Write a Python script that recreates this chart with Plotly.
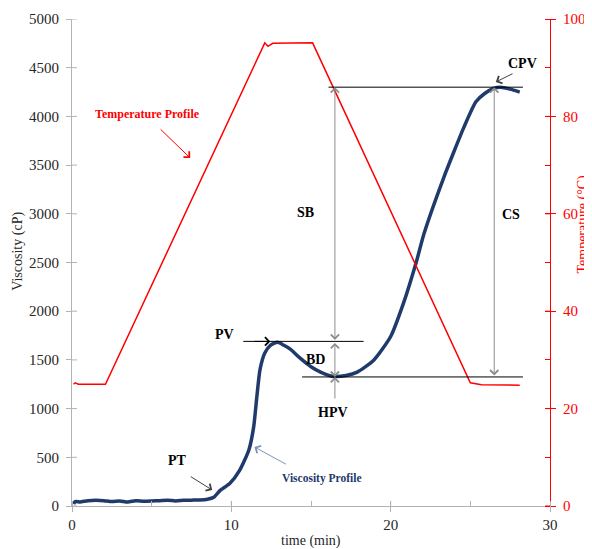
import plotly.graph_objects as go

# ---------------- data ----------------
visc_time = [0.1, 0.2, 0.5, 1.0, 1.5, 2.0, 2.5, 3.0, 3.5, 4.0, 4.5, 5.0, 5.5, 6.0, 6.5,
             7.0, 7.5, 8.0, 8.5, 8.9, 9.3, 9.9, 10.5, 11.1, 11.4, 11.6, 11.8, 12.1, 12.45,
             12.9, 13.3, 13.7, 14.3, 15.0, 15.6, 16.4, 17.2, 17.9, 18.95, 20.0, 20.8, 21.6,
             22.1, 23.35, 24.0, 24.6, 25.35, 25.9, 26.5, 26.9, 27.5, 28.1]
visc_cp = [20, 45, 42, 55, 58, 55, 45, 52, 40, 55, 50, 52, 55, 60, 52,
           58, 60, 62, 70, 90, 160, 230, 360, 575, 810, 1120, 1400, 1570, 1650,
           1680, 1650, 1610, 1520, 1430, 1375, 1330, 1340, 1375, 1500, 1740, 2080, 2500,
           2800, 3380, 3650, 3890, 4150, 4235, 4290, 4300, 4280, 4250]

temp_time = [0.1, 0.2, 0.4, 2.1, 12.1, 12.3, 12.6, 15.1, 25.0, 25.7, 28.1]
temp_c = [25.0, 25.3, 25.0, 25.0, 95.1, 94.4, 95.0, 95.1, 25.3, 24.9, 24.8]

x_ticks = [0, 10, 20, 30]
y_ticks = [0, 500, 1000, 1500, 2000, 2500, 3000, 3500, 4000, 4500, 5000]
y2_ticks = [0, 20, 40, 60, 80, 100]

# key pasting points (cP) and where they are marked (min)
PV = 1690
HPV = 1325
CPV = 4300
t_sb = 16.5
t_cs = 26.5

NAVY = "#1F3A6B"
RED = "#FF0000"
GRAY = "#8C8C8C"
AXGRAY = "#B3B3B3"
TXT = "#262626"
SERIF = "Liberation Serif"

fig = go.Figure()
fig.add_trace(go.Scatter(x=temp_time, y=temp_c, mode="lines", yaxis="y2",
                         line=dict(color=RED, width=1.5), hoverinfo="skip", showlegend=False))
fig.add_trace(go.Scatter(x=visc_time, y=visc_cp, mode="lines", yaxis="y",
                         line=dict(color=NAVY, width=3.5, shape="spline", smoothing=0.6),
                         showlegend=False))

shapes = []
# reference lines
shapes.append(dict(type="line", xref="x", yref="y", x0=16.1, x1=28.3, y0=CPV, y1=CPV,
                   line=dict(color="black", width=1)))
shapes.append(dict(type="line", xref="x", yref="y", x0=14.44, x1=28.3, y0=HPV, y1=HPV,
                   line=dict(color="black", width=1)))
shapes.append(dict(type="line", xref="x", yref="y", x0=10.75, x1=18.3, y0=PV, y1=PV,
                   line=dict(color="black", width=1)))

# inner halves of crossing ticks
for v in y_ticks:
    shapes.append(dict(type="line", xref="x", yref="y", xsizemode="pixel", xanchor=0,
                       x0=0, x1=5, y0=v, y1=v, line=dict(color=AXGRAY, width=1)))
for v in y2_ticks:
    shapes.append(dict(type="line", xref="x", yref="y2", xsizemode="pixel", xanchor=30,
                       x0=-5, x1=0, y0=v, y1=v, line=dict(color=RED, width=1)))
for v in x_ticks[1:-1]:
    shapes.append(dict(type="line", xref="x", yref="y", ysizemode="pixel", yanchor=0,
                       y0=0, y1=5, x0=v, x1=v, line=dict(color=AXGRAY, width=1)))

anns = []


def arrow(x_head, y_head, x_tail, y_tail, color, both=False, yref="y"):
    anns.append(dict(x=x_head, y=y_head, ax=x_tail, ay=y_tail, xref="x", yref=yref,
                     axref="x", ayref=yref, text="", showarrow=True, arrowhead=4,
                     startarrowhead=4, arrowsize=1.6, startarrowsize=1.6, arrowwidth=1,
                     arrowcolor=color, arrowside="end+start" if both else "end",
                     standoff=0, startstandoff=0))


def label(x, y, txt, size=14, color="black"):
    anns.append(dict(x=x, y=y, xref="x", yref="y", text="<b>%s</b>" % txt, showarrow=False,
                     font=dict(family=SERIF, size=size, color=color)))


arrow(t_sb, CPV, t_sb, PV, GRAY, both=True)           # SB
arrow(t_sb, HPV, t_sb, PV, GRAY, both=True)           # BD
arrow(t_sb, HPV, t_sb, 1088, GRAY)                    # HPV
arrow(t_cs, CPV, t_cs, HPV, GRAY, both=True)          # CS
arrow(12.45, PV, 11.35, PV, "black")                  # PV
arrow(26.6, 4353, 27.74, 4446, "#404040")             # CPV
arrow(8.8, 164, 7.36, 311, "#404040")                 # PT
arrow(11.45, 606, 13.52, 421, "#7F93B8")              # viscosity profile
arrow(7.42, 3573, 5.47, 3881, RED)                    # temperature profile

label(14.65, 3018, "SB")
label(27.55, 2988, "CS")
label(15.28, 1509, "BD")
label(16.4, 965, "HPV")
label(9.56, 1756, "PV")
label(6.64, 472, "PT")
label(28.28, 4548, "CPV")
label(15.66, 287, "Viscosity Profile", size=11.5, color=NAVY)
label(4.76, 4025, "Temperature Profile", size=12, color=RED)

# axis titles as annotations (paper coords relative to the plot area)
anns.append(dict(text="Viscosity (cP)", xref="paper", yref="paper", x=-0.113, y=0.524,
                 xanchor="center", yanchor="middle",
                 textangle=-90, showarrow=False, font=dict(family=SERIF, size=14, color=TXT)))
anns.append(dict(text="Temperature (°C)", xref="paper", yref="paper", x=1.069, y=0.58,
                 xanchor="center", yanchor="middle",
                 textangle=-90, showarrow=False, font=dict(family=SERIF, size=14, color=RED)))
anns.append(dict(text="time (min)", xref="paper", yref="paper", x=0.5, y=-0.071,
                 xanchor="center", yanchor="middle",
                 showarrow=False, font=dict(family=SERIF, size=14, color=TXT)))

fig.update_layout(
    width=592, height=549,
    # the page body adds an 8 px offset, compensated here
    margin=dict(l=64, r=50, t=11, b=51, autoexpand=False),
    paper_bgcolor="white", plot_bgcolor="white",
    font=dict(family=SERIF, size=15, color=TXT),
    shapes=shapes, annotations=anns,
    xaxis=dict(range=[0, 30], tickvals=x_ticks, showgrid=False, zeroline=False,
               showline=True, linecolor=AXGRAY, linewidth=1, automargin=False,
               ticks="outside", ticklen=5, tickcolor=AXGRAY,
               minor=dict(ticks="inside", ticklen=5, dtick=5, tick0=0, tickcolor=AXGRAY),
               tickfont=dict(family=SERIF, size=15, color=TXT)),
    yaxis=dict(range=[0, 5000], tickvals=y_ticks, showgrid=False, zeroline=False,
               showline=True, linecolor=AXGRAY, linewidth=1, automargin=False,
               ticks="outside", ticklen=5, tickcolor=AXGRAY, ticklabelstandoff=4,
               tickfont=dict(family=SERIF, size=15, color=TXT)),
    yaxis2=dict(range=[0, 100], tickvals=y2_ticks, overlaying="y", side="right",
                showgrid=False, zeroline=False, showline=True, linecolor=RED, linewidth=1,
                automargin=False,
                ticks="outside", ticklen=5, tickcolor=RED, ticklabelstandoff=4,
                minor=dict(ticks="inside", ticklen=5, dtick=10, tick0=0, tickcolor=RED),
                tickfont=dict(family=SERIF, size=15, color=RED)),
)

fig.write_html("out.html")
